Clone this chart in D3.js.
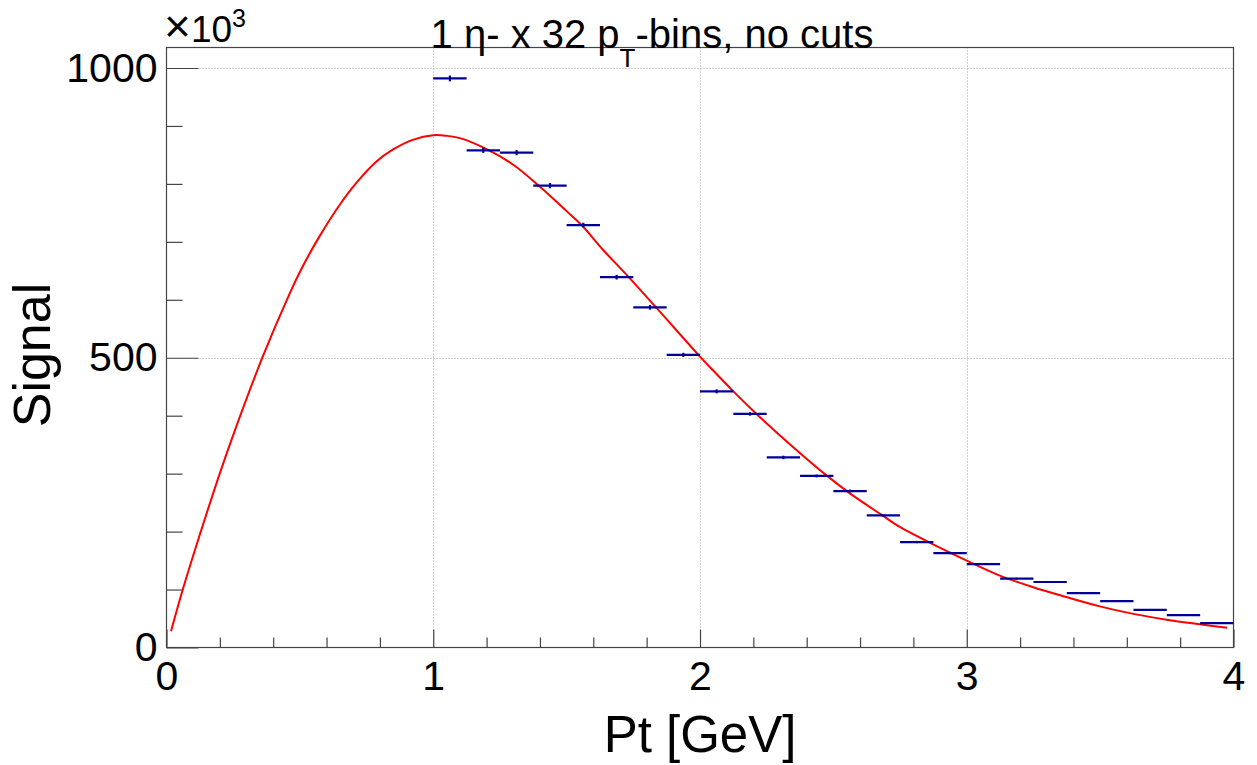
<!DOCTYPE html>
<html>
<head>
<meta charset="utf-8">
<script src="https://cdn.jsdelivr.net/npm/d3@7"></script>
<style>
  html, body { margin: 0; padding: 0; background: #fff; }
  svg { display: block; font-family: "Liberation Sans", Arial, Helvetica, sans-serif; }
</style>
</head>
<body>
<svg id="chart" width="1257" height="765"></svg>
<script>
// Histogram: signal per pT bin (in units of 10^3), bins of 0.125 GeV
const binWidth = 0.125;
const binCenters = [1.0625, 1.1875, 1.3125, 1.4375, 1.5625, 1.6875, 1.8125, 1.9375,
                    2.0625, 2.1875, 2.3125, 2.4375, 2.5625, 2.6875, 2.8125, 2.9375,
                    3.0625, 3.1875, 3.3125, 3.4375, 3.5625, 3.6875, 3.8125, 3.9375];
const signal = [982, 858, 854, 797, 729, 639, 587, 505,
                442, 403, 328, 296, 270, 228, 182, 163,
                144, 119, 113, 94, 80, 65, 56, 42];
const signalErr = [5, 4.5, 4.5, 4.5, 4, 4, 4, 3.5,
                   3.5, 3, 3, 2.5, 2.5, 2, 2, 2,
                   1.5, 1.5, 1.5, 1.5, 1.5, 1.5, 1.5, 1.5];

// Fit function sampled along pT
const fitX = [0.017, 0.061, 0.123, 0.198, 0.248, 0.36, 0.46, 0.51, 0.573, 0.654, 0.71,
              0.785, 0.848, 0.923, 1.0, 1.05, 1.10, 1.20, 1.30, 1.40, 1.50, 1.556, 1.637,
              1.731, 1.837, 2.0, 2.043, 2.125, 2.212, 2.356, 2.474, 2.562, 2.687, 2.749,
              2.874, 3.0, 3.124, 3.249, 3.374, 3.499, 3.624, 3.749, 3.874, 3.976];
const fitY = [28, 100, 192, 298, 364, 501, 609, 657, 709, 767, 801,
              838, 859, 876, 884, 883, 879, 860, 833, 795, 753, 729, 686,
              640, 586, 502, 481, 442, 403, 343, 297, 266, 227, 208,
              178, 150, 124, 104, 87, 71, 58, 48, 40, 34];

// Axis ticks
const xMajorTicks = [0, 1, 2, 3, 4];
const xMinorTicks = [0.2, 0.4, 0.6, 0.8, 1.2, 1.4, 1.6, 1.8, 2.2, 2.4, 2.6, 2.8, 3.2, 3.4, 3.6, 3.8];
const yMajorTicks = [0, 500, 1000];
const yMinorTicks = [100, 200, 300, 400, 600, 700, 800, 900];
const xGrid = [1, 2, 3];
const yGrid = [500, 1000];

const svg = d3.select("#chart");
const plotLeft = 166.5, plotRight = 1233.5, plotTop = 47.5, plotBottom = 647.5;

const x = d3.scaleLinear().domain([0, 4]).range([plotLeft, plotRight]);
const y = d3.scaleLinear().domain([0, 1000]).range([plotBottom, 68]);

// Grid lines
const grid = svg.append("g").attr("stroke", "#a0a0a0").attr("stroke-width", 1)
  .attr("stroke-dasharray", "1,2");
grid.selectAll("line.gx").data(xGrid).join("line")
  .attr("class", "gx")
  .attr("x1", d => Math.round(x(d)) + 0.5).attr("x2", d => Math.round(x(d)) + 0.5)
  .attr("y1", plotTop).attr("y2", plotBottom);
grid.selectAll("line.gy").data(yGrid).join("line")
  .attr("class", "gy")
  .attr("x1", plotLeft).attr("x2", plotRight)
  .attr("y1", d => Math.round(y(d)) + 0.5).attr("y2", d => Math.round(y(d)) + 0.5);

// Axes with inward ticks
const axisColor = "#444";
function styleAxis(g) {
  g.select(".domain").remove();
  g.selectAll(".tick line").attr("stroke", axisColor).attr("stroke-width", 1.2);
  g.selectAll(".tick text").attr("fill", "#000").attr("font-size", 41)
    .attr("font-family", "Liberation Sans, Arial, sans-serif");
}

svg.append("g").attr("transform", `translate(0,${plotBottom})`)
  .call(d3.axisBottom(x).tickValues(xMinorTicks).tickSize(-10).tickFormat(""))
  .call(styleAxis);
svg.append("g").attr("transform", `translate(0,${plotBottom})`)
  .call(d3.axisBottom(x).tickValues(xMajorTicks).tickSize(-18).tickPadding(13).tickFormat(d3.format("d")))
  .call(styleAxis);

svg.append("g").attr("transform", `translate(${plotLeft},0)`)
  .call(d3.axisLeft(y).tickValues(yMinorTicks).tickSize(-16).tickFormat(""))
  .call(styleAxis);
svg.append("g").attr("transform", `translate(${plotLeft},0)`)
  .call(d3.axisLeft(y).tickValues(yMajorTicks).tickSize(-32).tickPadding(9).tickFormat(d3.format("d")))
  .call(styleAxis);

// Frame
svg.append("rect")
  .attr("x", plotLeft).attr("y", plotTop)
  .attr("width", plotRight - plotLeft).attr("height", plotBottom - plotTop)
  .attr("fill", "none").attr("stroke", axisColor).attr("stroke-width", 1.2);

// Fit curve
const line = d3.line()
  .x((d, i) => x(fitX[i]))
  .y(d => y(d))
  .curve(d3.curveCatmullRom.alpha(0.5));
svg.append("path")
  .datum(fitY)
  .attr("d", line)
  .attr("fill", "none")
  .attr("stroke", "#ff0000")
  .attr("stroke-width", 2);

// Histogram points: horizontal bin-width bar and vertical error bar
const histColor = "#000099";
const pts = svg.append("g").attr("stroke", histColor).attr("stroke-width", 2.2);
pts.selectAll("line.h").data(signal).join("line")
  .attr("class", "h")
  .attr("x1", (d, i) => x(binCenters[i] - binWidth / 2))
  .attr("x2", (d, i) => x(binCenters[i] + binWidth / 2))
  .attr("y1", d => y(d)).attr("y2", d => y(d));
pts.selectAll("line.v").data(signal).join("line")
  .attr("class", "v")
  .attr("x1", (d, i) => x(binCenters[i]))
  .attr("x2", (d, i) => x(binCenters[i]))
  .attr("y1", (d, i) => y(d + signalErr[i]))
  .attr("y2", (d, i) => y(d - signalErr[i]));

// Exponent label
const expo = svg.append("text")
  .attr("x", 164).attr("y", 42)
  .attr("font-size", 37).attr("fill", "#000");
expo.append("tspan").attr("font-size", 46).text("×");
expo.append("tspan").text("10");
expo.append("tspan").attr("font-size", 25).attr("dy", -15).text("3");

// Title
const title = svg.append("text")
  .attr("x", 652).attr("y", 48)
  .attr("text-anchor", "middle")
  .attr("font-size", 40).attr("fill", "#000");
title.append("tspan").text("1 η- x 32 p");
title.append("tspan").attr("font-size", 26).attr("dy", 19).text("T");
title.append("tspan").attr("dy", -19).text("-bins, no cuts");

// Axis titles
svg.append("text")
  .attr("x", (plotLeft + plotRight) / 2).attr("y", 752)
  .attr("text-anchor", "middle")
  .attr("font-size", 51).attr("fill", "#000")
  .text("Pt [GeV]");

svg.append("text")
  .attr("transform", `translate(50,355) rotate(-90)`)
  .attr("text-anchor", "middle")
  .attr("font-size", 52).attr("fill", "#000")
  .text("Signal");
</script>
</body>
</html>
